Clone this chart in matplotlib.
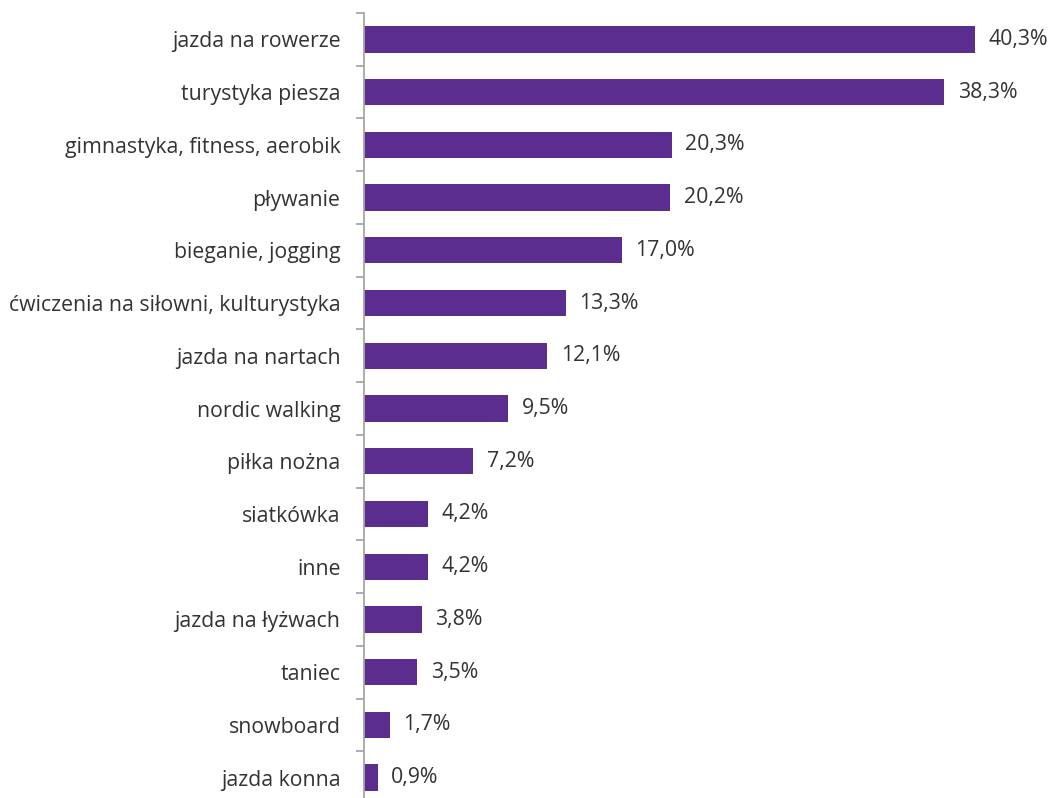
import numpy as np
import matplotlib.pyplot as plt

plt.rcParams['font.family'] = ['Open Sans', 'DejaVu Sans']

categories = ['jazda na rowerze', 'turystyka piesza', 'gimnastyka, fitness, aerobik',
              'pływanie', 'bieganie, jogging', 'ćwiczenia na siłowni, kulturystyka',
              'jazda na nartach', 'nordic walking', 'piłka nożna', 'siatkówka',
              'inne', 'jazda na łyżwach', 'taniec', 'snowboard', 'jazda konna']
values = [40.3, 38.3, 20.3, 20.2, 17.0, 13.3, 12.1, 9.5, 7.2, 4.2, 4.2, 3.8, 3.5, 1.7, 0.9]

bar_color = '#5b2d8e'
text_color = '#333333'

fig = plt.figure(figsize=(10.51, 7.98), dpi=100)
ax = fig.add_axes([364 / 1051, 1 - 804 / 798, 682 / 1051, 791 / 798])

y = np.arange(len(categories))
ax.barh(y, values, height=0.5, color=bar_color)

for yi, v in zip(y, values):
    ax.text(v + 0.9, yi, f'{v:.1f}'.replace('.', ',') + '%', va='center', ha='left',
            fontsize=15.3, color=text_color)

ax.set_xlim(0, 45)
ax.set_ylim(len(categories) - 0.5, -0.5)
ax.set_yticks(y)
ax.set_yticklabels(categories, fontsize=15.3, color=text_color)
ax.set_yticks(np.arange(len(categories) + 1) - 0.5, minor=True)
ax.tick_params(axis='y', which='major', length=0, pad=17)
ax.tick_params(axis='y', which='minor', length=6, width=1.3, color='#a6a6a6')
ax.set_xticks([])

for s in ['top', 'right', 'bottom']:
    ax.spines[s].set_visible(False)
ax.spines['left'].set_color('#a6a6a6')
ax.spines['left'].set_linewidth(1.3)

fig.savefig('out.png', dpi=100)
